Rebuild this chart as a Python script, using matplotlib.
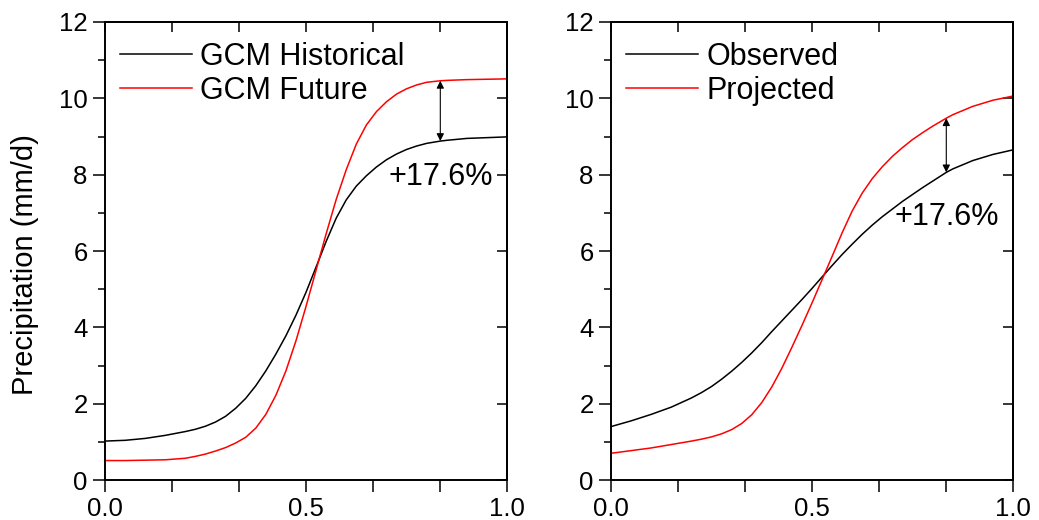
import matplotlib
matplotlib.use("Agg")
import matplotlib.pyplot as plt
import numpy as np

plt.rcParams['font.family'] = ['Liberation Sans', 'DejaVu Sans']

# x grid shared by all curves (cumulative probability)
x = [0.0, 0.05, 0.1, 0.15, 0.2, 0.225, 0.25, 0.275, 0.3, 0.325, 0.35, 0.375, 0.4,
     0.425, 0.45, 0.475, 0.5, 0.525, 0.55, 0.575, 0.6, 0.625, 0.65, 0.675, 0.7,
     0.725, 0.75, 0.775, 0.8, 0.834, 0.85, 0.9, 0.95, 1.0]

gcm_hist = [1.02, 1.04, 1.09, 1.17, 1.27, 1.33, 1.41, 1.52, 1.67, 1.88, 2.14, 2.47, 2.86,
            3.30, 3.78, 4.32, 4.92, 5.58, 6.25, 6.86, 7.34, 7.70, 7.97, 8.20, 8.39,
            8.54, 8.66, 8.75, 8.82, 8.88, 8.90, 8.95, 8.97, 8.99]
gcm_fut = [0.51, 0.51, 0.52, 0.53, 0.57, 0.62, 0.68, 0.76, 0.85, 0.97, 1.12, 1.36, 1.72,
           2.22, 2.86, 3.65, 4.55, 5.50, 6.45, 7.35, 8.13, 8.80, 9.30, 9.65, 9.91,
           10.11, 10.25, 10.35, 10.42, 10.46, 10.47, 10.49, 10.50, 10.51]

observed = [1.40, 1.55, 1.72, 1.91, 2.15, 2.29, 2.45, 2.64, 2.85, 3.08, 3.33, 3.60, 3.89,
            4.17, 4.45, 4.73, 5.02, 5.32, 5.62, 5.91, 6.18, 6.44, 6.68, 6.90, 7.10,
            7.30, 7.48, 7.66, 7.83, 8.06, 8.15, 8.37, 8.53, 8.65]
projected = [0.70, 0.77, 0.84, 0.93, 1.02, 1.07, 1.13, 1.21, 1.32, 1.48, 1.71, 2.03, 2.44,
             2.93, 3.48, 4.05, 4.64, 5.25, 5.86, 6.48, 7.05, 7.52, 7.90, 8.21, 8.48,
             8.71, 8.92, 9.10, 9.27, 9.48, 9.57, 9.79, 9.95, 10.06]

change_label = "+17.6%"
arrow_i = x.index(0.834)

fig = plt.figure(figsize=(10.39, 5.2), dpi=100)
ax1 = fig.add_axes([0.1011, 0.0769, 0.3869, 0.8808])
ax2 = fig.add_axes([0.5881, 0.0769, 0.3869, 0.8808])

xt = [0, 1/6, 2/6, 0.5, 4/6, 5/6, 1.0]
xtl = ['0.0', '', '', '0.5', '', '', '1.0']


def style(ax, base, fut, lab_base, lab_fut, txt_y):
    ax.plot(x, base, color='black', lw=1.1, label=lab_base)
    ax.plot(x, fut, color='red', lw=1.1, label=lab_fut)
    ax.set_xlim(0, 1)
    ax.set_ylim(0, 12)
    ax.set_xticks(xt)
    ax.set_xticklabels(xtl)
    ax.set_yticks(range(0, 13, 2))
    ax.set_yticks(range(1, 12, 2), minor=True)
    ax.tick_params(which='major', direction='out', length=8.5, width=1.1,
                   labelsize=18.5, pad=4)
    ax.tick_params(which='minor', direction='out', length=5, width=1.1)
    for s in ax.spines.values():
        s.set_linewidth(1.4)
    top = ax.secondary_xaxis('top')
    top.set_xticks(xt)
    top.tick_params(direction='in', length=7.5, width=1.1, labeltop=False)
    top.spines['top'].set_linewidth(1.4)
    right = ax.secondary_yaxis('right')
    right.set_yticks(range(0, 13, 2))
    right.tick_params(direction='in', length=7.5, width=1.1, labelright=False)
    right.spines['right'].set_linewidth(1.4)

    xa = x[arrow_i]
    ax.annotate('', xy=(xa, base[arrow_i]), xytext=(xa, fut[arrow_i]),
                arrowprops=dict(arrowstyle='<|-|>', color='black', lw=0.8,
                                mutation_scale=11, shrinkA=0, shrinkB=0))
    ax.text(xa, txt_y, change_label, fontsize=22, ha='center', va='center')
    ax.legend(loc='upper left', bbox_to_anchor=(0.0, 0.99), frameon=False,
              fontsize=22, handlelength=2.35, handletextpad=0.27,
              labelspacing=0.12, borderaxespad=0.3, borderpad=0.2)


style(ax1, gcm_hist, gcm_fut, 'GCM Historical', 'GCM Future', 7.94)
style(ax2, observed, projected, 'Observed', 'Projected', 6.90)
ax1.set_ylabel('Precipitation (mm/d)', fontsize=21)
ax1.yaxis.set_label_coords(-0.165, 0.47)

fig.savefig('out.png', dpi=100)
